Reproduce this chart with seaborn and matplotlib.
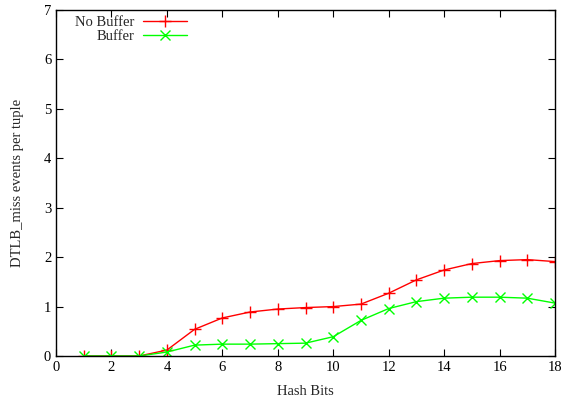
import matplotlib
matplotlib.use("Agg")
import matplotlib.pyplot as plt
import seaborn as sns
import pandas as pd

hash_bits = list(range(1, 19))
no_buffer = [0.0, 0.0, 0.0, 0.12, 0.54, 0.77, 0.89, 0.95, 0.98, 1.0, 1.05,
             1.27, 1.54, 1.74, 1.87, 1.93, 1.95, 1.91]
buffer = [0.0, 0.0, 0.0, 0.08, 0.22, 0.24, 0.24, 0.25, 0.26, 0.39, 0.72,
          0.96, 1.10, 1.17, 1.19, 1.19, 1.17, 1.07]

df_nb = pd.DataFrame({"Hash Bits": hash_bits, "value": no_buffer})
df_b = pd.DataFrame({"Hash Bits": hash_bits, "value": buffer})

sns.set_style("ticks")
plt.rcParams["font.family"] = ["Liberation Serif", "DejaVu Serif"]
plt.rcParams["font.size"] = 10.5

fig = plt.figure(figsize=(5.61, 3.98), dpi=100)
ax = fig.add_axes([56 / 561, 1 - 356 / 398, (555 - 56) / 561, (356 - 10) / 398])

sns.lineplot(data=df_nb, x="Hash Bits", y="value", color="#ff0000",
             marker="+", markersize=8, markeredgewidth=1,
             markeredgecolor="#ff0000", linewidth=1, label="No Buffer", ax=ax)
sns.lineplot(data=df_b, x="Hash Bits", y="value", color="#00ff00",
             marker="x", markersize=7, markeredgewidth=1,
             markeredgecolor="#00ff00", linewidth=1, label="Buffer", ax=ax)

ax.set_xlim(0, 18)
ax.set_ylim(0, 7)
ax.set_xticks(range(0, 19, 2))
ax.set_yticks(range(0, 8))
ax.set_xlabel("Hash Bits", fontsize=10.5, labelpad=8)
ax.set_ylabel("DTLB_miss events per tuple", fontsize=10.5, labelpad=14)
ax.tick_params(direction="in", length=5, width=0.8, top=True, right=True,
               labelsize=10.5, color="black", labelcolor="black")
for s in ax.spines.values():
    s.set_visible(True)
    s.set_linewidth(1)
    s.set_color("black")

ax.legend(loc="upper left", bbox_to_anchor=(0.012, 1.02), frameon=False,
          markerfirst=False, handlelength=3.0, handletextpad=0.6,
          labelspacing=0.05, fontsize=10.5)

fig.savefig("out.png", dpi=100)
